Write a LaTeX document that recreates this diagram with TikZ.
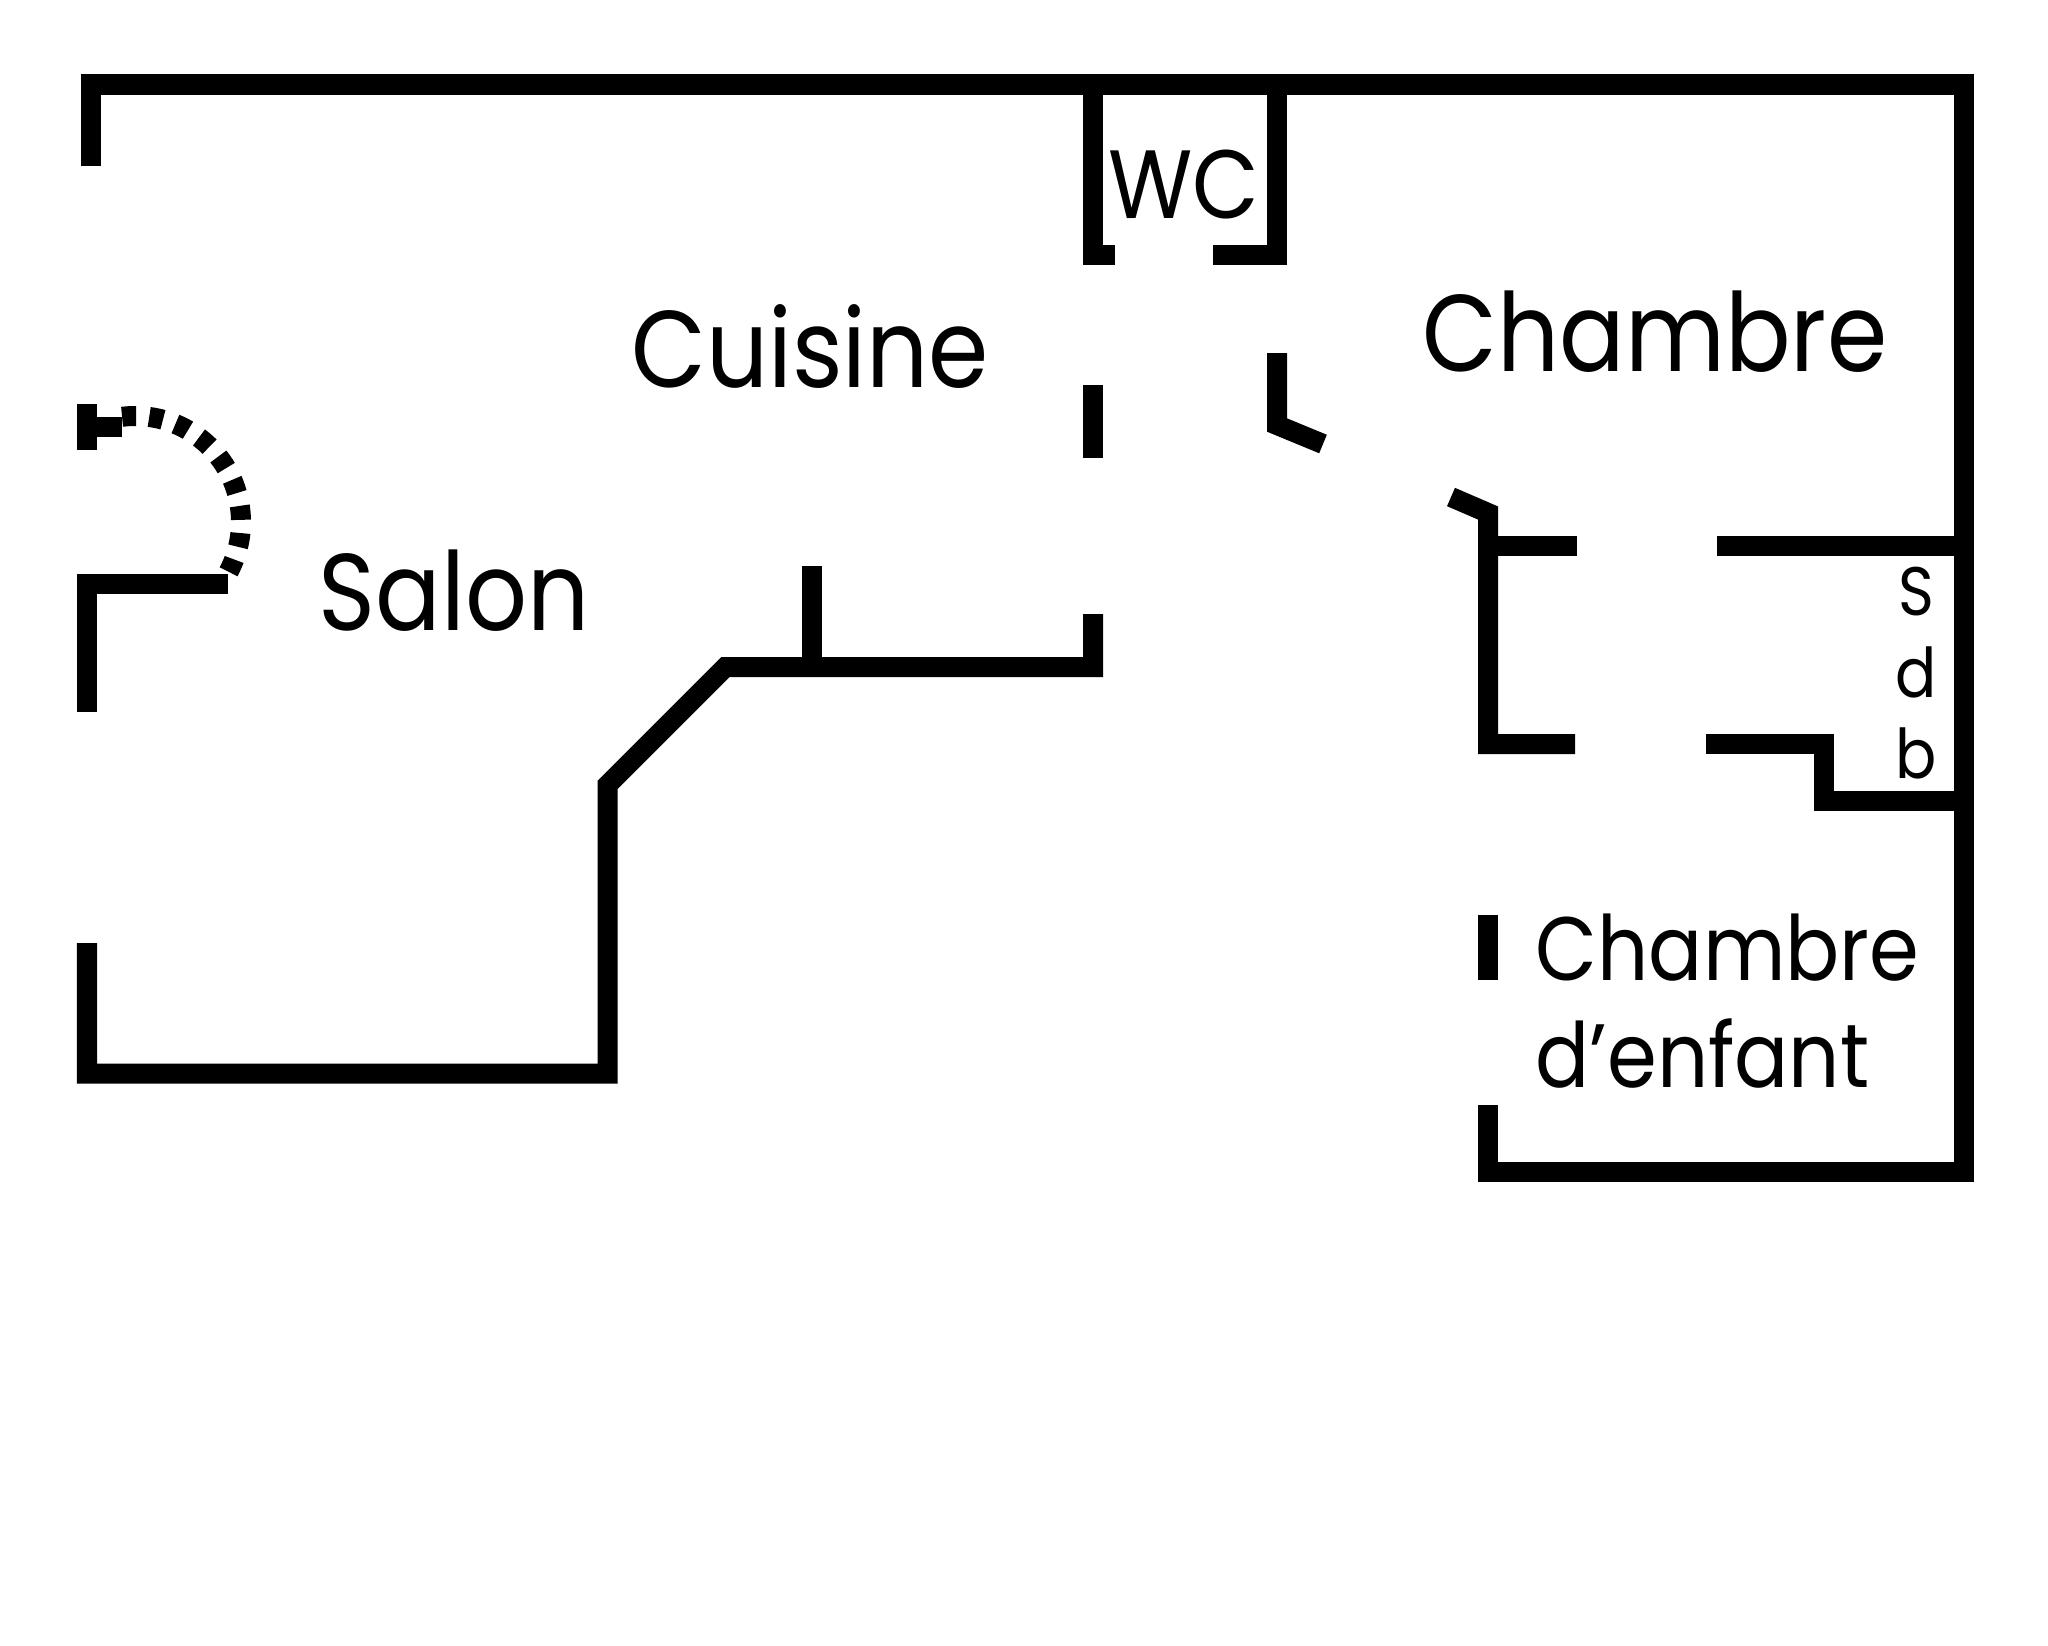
\documentclass[tikz,border=0pt]{standalone}
\usepackage{fontspec}
\setmainfont{Poppins}[FakeStretch=0.89]
\begin{document}
\begin{tikzpicture}[x=0.01cm,y=-0.01cm,
    wall/.style={black,line width=0.2cm},
    room/.style={font=\fontsize{31}{31}\selectfont},
    enfant/.style={font=\fontsize{25.6}{26}\selectfont},
    sdb/.style={font=\fontsize{19.5}{20}\selectfont}]
\tikzstyle{every node}+=[inner sep=0pt]
\useasboundingbox (0,0) rectangle (2048,1645);

% outside
\draw [wall] (91,166) -- (91,84.5) -- (1964,84.5) -- (1964,1171.5) -- (1488,1171.5) -- (1488,1105);

% wc
\draw [wall] (1093,84.5) -- (1093,255) -- (1115,255);
\draw [wall] (1277,84.5) -- (1277,255) -- (1213,255);
\draw [wall] (1093,385) -- (1093,458);

% chambre
\draw [wall] (1277,353) -- (1277,425) -- (1323,444);
\draw [wall] (1451,497) -- (1488,513) -- (1488,744) -- (1575,744);
\draw [wall] (1488,546) -- (1577,546);

% sdb
\draw [wall] (1717,546) -- (1964,546);
\draw [wall] (1706,744) -- (1824,744) -- (1824,801) -- (1964,801);

% chambre d'enfant
\draw [wall] (1488,915) -- (1488,980);

% salon
\draw [wall] (87,404) -- (87,450);
\draw [wall] (97,427) -- (122,427);
\draw [wall] (228,583.5) -- (87,583.5) -- (87,712);
\draw [wall] (87,943) -- (87,1073.5) -- (607.5,1073.5) -- (607.5,785) -- (725.5,667) -- (1093,667) -- (1093,614);
\draw [wall] (812,566) -- (812,657);
\draw [wall, dash pattern=on 0.14cm off 0.132cm] (135,522) ++(-97:106) arc [start angle=-97, end angle=28, radius=106];

\node [room, anchor=base] (salon) at (454,630) {Salon};
\node [room, anchor=base] (cuisine) at (810,387) {Cuisine};
\node [anchor=base, font=\fontsize{27.6}{28}\selectfont] (wc) at (1184,218) {WC};
\node [room, anchor=base] (chambre) at (1655,371) {Chambre};
\node [enfant, anchor=base west] (enfant1) at (1535,980) {Chambre};
\node [enfant, anchor=base west] (enfant2) at (1535,1087) {d’enfant};
\node [sdb, anchor=base] (s) at (1916,615) {S};
\node [sdb, anchor=base] (d) at (1916,697) {d};
\node [sdb, anchor=base] (b) at (1916,778) {b};
\end{tikzpicture}
\end{document}
